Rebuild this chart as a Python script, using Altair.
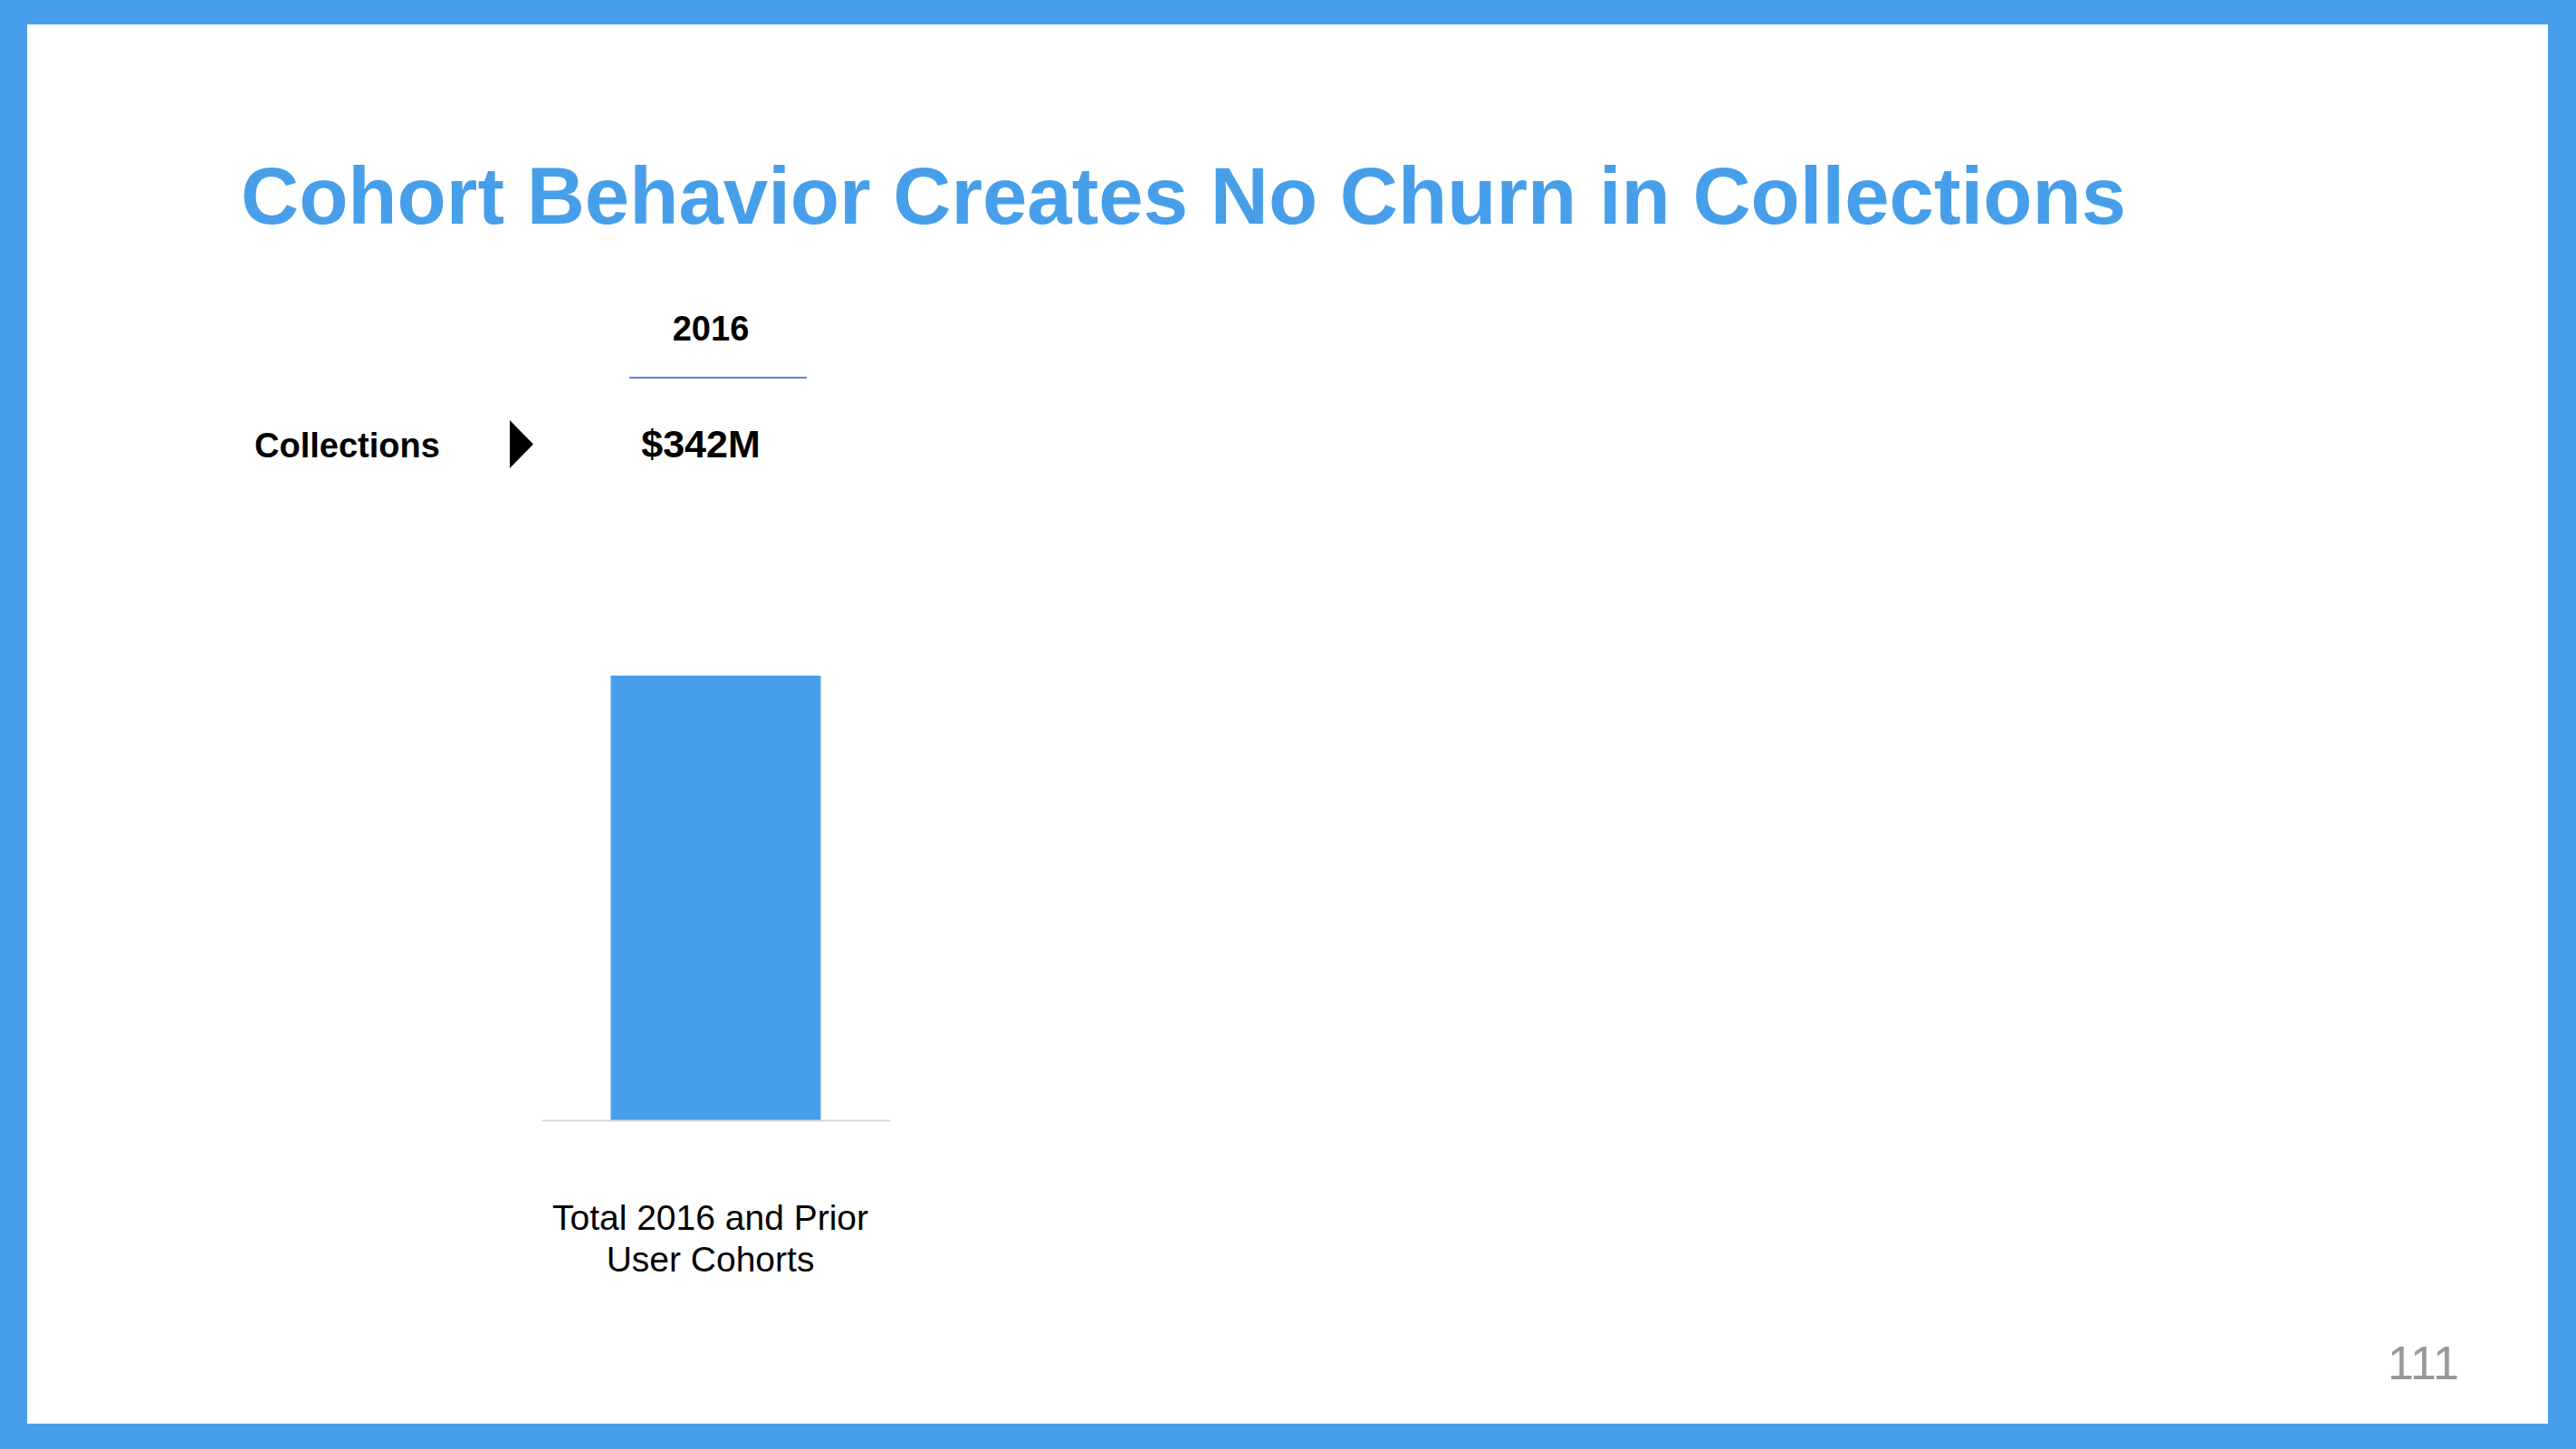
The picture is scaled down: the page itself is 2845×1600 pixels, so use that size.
import altair as alt
import pandas as pd

# ---- data ----
title_text = ["Cohort Behavior Creates No Churn in Collections"]
year_header = ["2016"]
row_label = ["Collections"]
categories = ["Total 2016 and Prior|User Cohorts"]
collections_musd = [342]
page_number = ["111"]

BLUE = "#479FEA"
FONT = "Liberation Sans"

W, H = 2845, 1600

one = pd.DataFrame({"k": [0]})

# white slide panel on blue frame
panel = alt.Chart(one).mark_rect(color="white").encode(
    x=alt.value(30), x2=alt.value(2814), y=alt.value(27), y2=alt.value(1572)
)

bar_df = pd.DataFrame({"category": categories, "value": collections_musd})

bars = alt.Chart(bar_df).mark_bar(color=BLUE).encode(
    x=alt.X(
        "category:N",
        scale=alt.Scale(range=[598, 983], paddingInner=0, paddingOuter=0.33),
        axis=alt.Axis(
            title=None,
            orient="bottom",
            offset=-363,
            zindex=1,
            ticks=False,
            labelAngle=0,
            labelFont=FONT,
            labelFontSize=39,
            labelColor="black",
            labelPadding=89,
            labelLineHeight=46,
            labelOffset=-6,
            labelLimit=1000,
            labelExpr="split(datum.label, '|')",
            domainColor="#dcdcdc",
            domainWidth=2,
            grid=False,
        ),
    ),
    y=alt.Y(
        "value:Q",
        scale=alt.Scale(domain=[0, 342], range=[1237, 746], nice=False, zero=True),
        axis=None,
    ),
)

title = alt.Chart(pd.DataFrame({"t": title_text})).mark_text(
    font=FONT, fontSize=88.8, fontWeight="bold", color=BLUE, align="left", baseline="alphabetic"
).encode(text="t:N", x=alt.value(266), y=alt.value(247))

year = alt.Chart(pd.DataFrame({"t": year_header})).mark_text(
    font=FONT, fontSize=38, fontWeight="bold", color="black", align="center", baseline="alphabetic"
).encode(text="t:N", x=alt.value(785), y=alt.value(376))

underline = alt.Chart(one).mark_rule(color="#5b84d6", strokeWidth=2).encode(
    x=alt.value(695), x2=alt.value(891), y=alt.value(417)
)

rowlab = alt.Chart(pd.DataFrame({"t": row_label})).mark_text(
    font=FONT, fontSize=38, fontWeight="bold", color="black", align="left", baseline="alphabetic"
).encode(text="t:N", x=alt.value(281), y=alt.value(505))

arrow = alt.Chart(one).mark_point(
    shape="M-0.49,-1L0.49,0L-0.49,1Z", filled=True, color="black", opacity=1, size=2809
).encode(x=alt.value(576), y=alt.value(490.5))

value_df = pd.DataFrame({"v": collections_musd})
value_txt = alt.Chart(value_df).transform_calculate(
    lab="'$' + datum.v + 'M'"
).mark_text(
    font=FONT, fontSize=43, fontWeight="bold", color="black", align="center", baseline="alphabetic"
).encode(text="lab:N", x=alt.value(774), y=alt.value(505))

page = alt.Chart(pd.DataFrame({"t": page_number})).mark_text(
    font=FONT, fontSize=52, color="#999999", align="right", baseline="alphabetic"
).encode(text="t:N", x=alt.value(2716), y=alt.value(1523))

chart = alt.layer(
    panel, bars, title, year, underline, rowlab, arrow, value_txt, page
).properties(
    width=W,
    height=H,
    padding=0,
    autosize=alt.AutoSizeParams(type="none"),
    background=BLUE,
).configure_view(strokeWidth=0)

chart.save("out.html", embed_options={"renderer": "svg", "actions": False})
